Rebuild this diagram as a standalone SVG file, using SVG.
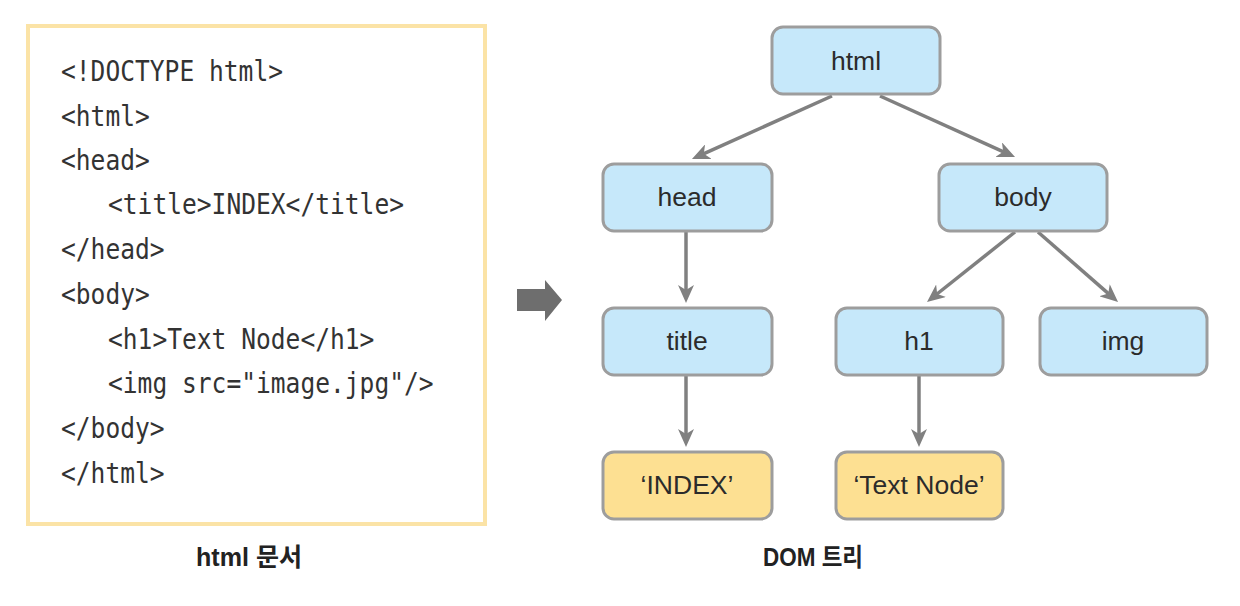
<svg xmlns="http://www.w3.org/2000/svg" width="1240" height="606" viewBox="0 0 1240 606">
<style>
.code{font-family:"DejaVu Sans Mono","Liberation Mono",monospace;font-size:27.5px;fill:#333;}
.node rect{stroke:#9d9d9d;stroke-width:3;}
.el rect{fill:#c6e8fa;}
.tx rect{fill:#fde092;}
.node text{font-family:"Liberation Sans",Arial,sans-serif;font-size:26.5px;fill:#2b2b2b;text-anchor:middle;}
.cap{font-family:"Liberation Sans","Noto Sans CJK KR",sans-serif;font-size:25px;font-weight:bold;fill:#222;}
.conn line{stroke:#808080;stroke-width:3.5;marker-end:url(#ah);}
</style>
<defs>
<marker id="ah" markerUnits="userSpaceOnUse" markerWidth="18" markerHeight="16" viewBox="0 0 18 16" refX="6" refY="8" orient="auto">
<path d="M0,0 L18,8 L0,16 L5,8 z" fill="#808080"/>
</marker>
</defs>
<rect width="1240" height="606" fill="#fff"/>
<g id="code">
<rect x="28" y="26" width="457" height="498" fill="#fff" stroke="#fbe3a6" stroke-width="4"/>
<text class="code" x="61" y="81" textLength="222" lengthAdjust="spacingAndGlyphs">&lt;!DOCTYPE html&gt;</text>
<text class="code" x="61" y="126" textLength="88.8" lengthAdjust="spacingAndGlyphs">&lt;html&gt;</text>
<text class="code" x="61" y="170" textLength="88.8" lengthAdjust="spacingAndGlyphs">&lt;head&gt;</text>
<text class="code" x="108" y="214" textLength="296" lengthAdjust="spacingAndGlyphs">&lt;title&gt;INDEX&lt;/title&gt;</text>
<text class="code" x="61" y="259" textLength="103.6" lengthAdjust="spacingAndGlyphs">&lt;/head&gt;</text>
<text class="code" x="61" y="304" textLength="88.8" lengthAdjust="spacingAndGlyphs">&lt;body&gt;</text>
<text class="code" x="108" y="349" textLength="266.4" lengthAdjust="spacingAndGlyphs">&lt;h1&gt;Text Node&lt;/h1&gt;</text>
<text class="code" x="108" y="393" textLength="325.6" lengthAdjust="spacingAndGlyphs">&lt;img src="image.jpg"/&gt;</text>
<text class="code" x="61" y="438" textLength="103.6" lengthAdjust="spacingAndGlyphs">&lt;/body&gt;</text>
<text class="code" x="61" y="483" textLength="103.6" lengthAdjust="spacingAndGlyphs">&lt;/html&gt;</text>
</g>
<g id="bigarrow">
<path d="M517,289 H545 V280 L562,300 L545,321 V311 H517 z" fill="#6e6e6e"/>
</g>
<g class="conn" id="connectors">
<line x1="832" y1="96" x2="702.9" y2="154.1"/>
<line x1="880" y1="96" x2="1004.1" y2="152.1"/>
<line x1="686" y1="231" x2="686" y2="291"/>
<line x1="1015" y1="232" x2="936.4" y2="294.5"/>
<line x1="1038" y1="232" x2="1109" y2="294.1"/>
<line x1="686" y1="375" x2="686" y2="435"/>
<line x1="919" y1="375" x2="919" y2="435"/>
</g>
<g id="n-html" class="node el"><rect x="772" y="27" width="168" height="67" rx="11"/><text x="856" y="70">html</text></g>
<g id="n-head" class="node el"><rect x="603" y="164" width="169" height="67" rx="11"/><text x="687" y="206">head</text></g>
<g id="n-body" class="node el"><rect x="939" y="164" width="168" height="67" rx="11"/><text x="1023" y="206">body</text></g>
<g id="n-title" class="node el"><rect x="603" y="308" width="169" height="67" rx="11"/><text x="687" y="350">title</text></g>
<g id="n-h1" class="node el"><rect x="836" y="308" width="167" height="67" rx="11"/><text x="919" y="350">h1</text></g>
<g id="n-img" class="node el"><rect x="1040" y="308" width="167" height="67" rx="11"/><text x="1123" y="350">img</text></g>
<g id="n-index" class="node tx"><rect x="603" y="452" width="169" height="67" rx="11"/><text x="687" y="494">‘INDEX’</text></g>
<g id="n-textnode" class="node tx"><rect x="836" y="452" width="167" height="67" rx="11"/><text x="919" y="494">‘Text Node’</text></g>
<text class="cap" x="196" y="566" textLength="106" lengthAdjust="spacingAndGlyphs">html 문서</text>
<text class="cap" x="763" y="566" textLength="100" lengthAdjust="spacingAndGlyphs">DOM 트리</text>
</svg>
